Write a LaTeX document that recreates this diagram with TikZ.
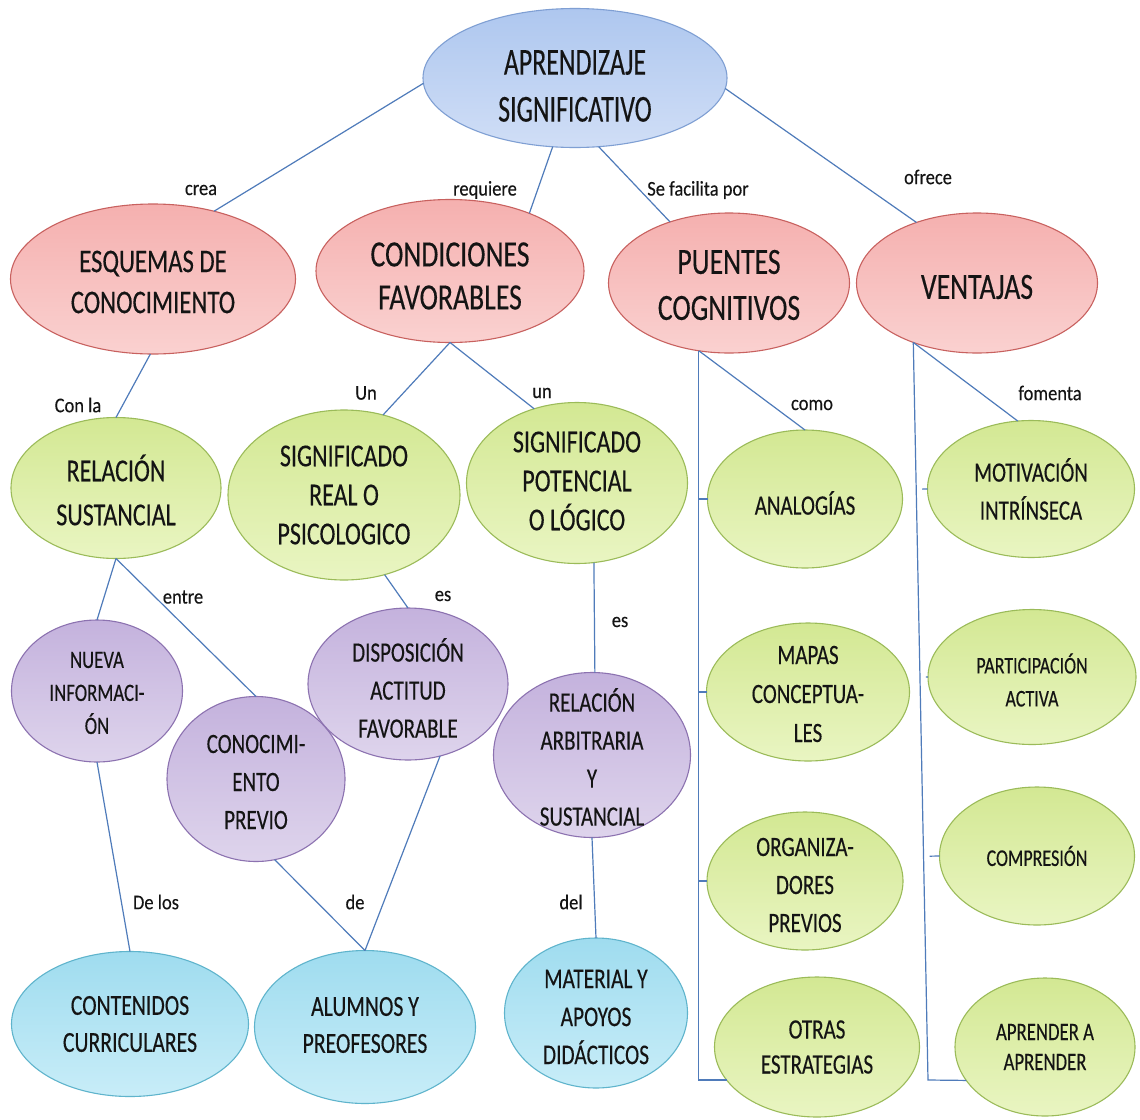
\documentclass[tikz,border=0pt]{standalone}
\usepackage{fontspec}
\setmainfont{Carlito}
\newfontfamily\nodefont{Carlito}[FakeStretch=0.75, FakeBold=0.3]
\newfontfamily\bigfont{Carlito}[FakeStretch=0.68, FakeBold=0.3]
\newfontfamily\lblfont{Carlito}[FakeStretch=0.88, FakeBold=0.2]
\usetikzlibrary{shapes.geometric, calc}
\definecolor{linkblue}{HTML}{4F7BBA}
\definecolor{inkgray}{HTML}{141414}
\definecolor{topline}{HTML}{7F9FD3}
\definecolor{toptop}{HTML}{AEC7EF}
\definecolor{topbot}{HTML}{D0DEF6}
\definecolor{redline}{HTML}{C8615F}
\definecolor{redtop}{HTML}{F5B0AF}
\definecolor{redbot}{HTML}{FAD1D0}
\definecolor{greenline}{HTML}{9BBB59}
\definecolor{greentop}{HTML}{D3E893}
\definecolor{greenbot}{HTML}{E9F5C2}
\definecolor{purpleline}{HTML}{8C72B0}
\definecolor{purpletop}{HTML}{C4B2DD}
\definecolor{purplebot}{HTML}{DED4EC}
\definecolor{cyanline}{HTML}{5FB4CC}
\definecolor{cyantop}{HTML}{9FDCEF}
\definecolor{cyanbot}{HTML}{C8EDF8}

\begin{document}
\begin{tikzpicture}[
        x=1pt, y=-1pt,
        ell/.style={ellipse, line width=1.1pt, inner sep=0pt, outer sep=0pt},
        topell/.style={ell, draw=topline, top color=toptop, bottom color=topbot},
        redell/.style={ell, draw=redline, top color=redtop, bottom color=redbot},
        greenell/.style={ell, draw=greenline, top color=greentop, bottom color=greenbot},
        purpleell/.style={ell, draw=purpleline, top color=purpletop, bottom color=purplebot},
        cyanell/.style={ell, draw=cyanline, top color=cyantop, bottom color=cyanbot},
        sz/.style 2 args={minimum width=#1, minimum height=#2},
        txt/.style 2 args={font=\nodefont\fontsize{#1}{#2}\selectfont, align=center, text=inkgray, inner sep=0pt},
        bigtxt/.style 2 args={font=\bigfont\fontsize{#1}{#2}\selectfont, align=center, text=inkgray, inner sep=0pt},
        lbl/.style={font=\lblfont\fontsize{21}{24}\selectfont, text=inkgray, inner sep=0pt},
        link/.style={draw=linkblue, line width=1.2pt}
    ]
        \fill[white] (0,0) rectangle (1140,1119);
        \useasboundingbox (0,0) rectangle (1140,1119);

        % Main concept
        \node[topell, sz={304}{139}, label={[bigtxt={38}{47}, yshift=-8pt]center:APRENDIZAJE\\SIGNIFICATIVO}] (aprend) at (575,78) {};

        % Second level
        \node[redell, sz={285}{150}, label={[txt={33}{41}, yshift=-3pt]center:ESQUEMAS DE\\CONOCIMIENTO}] (esquemas) at (153,279) {};
        \node[redell, sz={268}{143}, label={[txt={37}{43}, yshift=-5pt]center:CONDICIONES\\FAVORABLES}] (condic) at (450,271) {};
        \node[redell, sz={241}{140}, label={[txt={37}{46}, yshift=-2pt]center:PUENTES\\COGNITIVOS}] (puentes) at (729,283) {};
        \node[redell, sz={241}{140}, label={[txt={37}{44}, yshift=-4pt]center:VENTAJAS}] (ventajas) at (977,283) {};

        % Third level
        \node[greenell, sz={210}{141}, label={[txt={32}{44}, yshift=-2pt]center:RELACIÓN\\SUSTANCIAL}] (relsust) at (116,488) {};
        \node[greenell, sz={232}{170}, label={[txt={32}{39}]center:SIGNIFICADO\\REAL O\\PSICOLOGICO}] (sigreal) at (344,495) {};
        \node[greenell, sz={221}{161}, label={[txt={32}{39}, yshift=2pt]center:SIGNIFICADO\\POTENCIAL\\O LÓGICO}] (sigpot) at (577,483) {};

        % Bridges and advantages
        \node[greenell, sz={195}{138}, label={[txt={28}{38}, yshift=-4pt]center:ANALOGÍAS}] (analog) at (805,499) {};
        \node[greenell, sz={203}{138}, label={[txt={28}{39}, yshift=-2pt]center:MAPAS\\CONCEPTUA-\\LES}] (mapas) at (808,692) {};
        \node[greenell, sz={196}{138}, label={[txt={28}{38}, yshift=-4pt]center:ORGANIZA-\\DORES\\PREVIOS}] (organiz) at (805,881) {};
        \node[greenell, sz={205}{140}, label={[txt={28}{35}]center:OTRAS\\ESTRATEGIAS}] (otras) at (817,1047) {};
        \node[greenell, sz={207}{137}, label={[txt={28}{38}]center:MOTIVACIÓN\\INTRÍNSECA}] (motiv) at (1031,489) {};
        \node[greenell, sz={208}{135}, label={[txt={24}{33}, yshift=-3pt]center:PARTICIPACIÓN\\ACTIVA}] (partic) at (1032,677) {};
        \node[greenell, sz={195}{138}, label={[txt={24}{30}]center:COMPRESIÓN}] (compren) at (1037,856) {};
        \node[greenell, sz={180}{138}, label={[txt={25}{30}]center:APRENDER A\\APRENDER}] (aprender) at (1045,1047) {};

        % Fourth level
        \node[purpleell, sz={171}{142}, label={[txt={25}{33}, yshift=-2pt]center:NUEVA\\INFORMACI-\\ÓN}] (nueva) at (97,691) {};
        \node[purpleell, sz={178}{165}, label={[txt={28}{38}, yshift=-3pt]center:CONOCIMI-\\ENTO\\PREVIO}] (conoc) at (256,779) {};
        \node[purpleell, sz={200}{152}, label={[txt={28}{38}, yshift=-4pt]center:DISPOSICIÓN\\ACTITUD\\FAVORABLE}] (dispos) at (408,684) {};
        \node[purpleell, sz={197}{165}, label={[txt={28}{38}, yshift=-2pt]center:RELACIÓN\\ARBITRARIA\\Y\\SUSTANCIAL}] (relarb) at (592,755) {};

        % Bottom level
        \node[cyanell, sz={237}{145}, label={[txt={29}{37}]center:CONTENIDOS\\CURRICULARES}] (conten) at (130,1024) {};
        \node[cyanell, sz={221}{153}, label={[txt={29}{37}, yshift=2pt]center:ALUMNOS Y\\PREOFESORES}] (alumnos) at (365,1027) {};
        \node[cyanell, sz={183}{150}, label={[txt={28.5}{38}, yshift=-4pt]center:MATERIAL Y\\APOYOS\\DIDÁCTICOS}] (material) at (596,1013) {};

        % Links
        \draw[link] (aprend.182) -- (esquemas.48);
        \draw[link] (aprend.252) -- (condic.36);
        \draw[link] (aprend.289) -- (puentes.134);
        \draw[link] (aprend.356) -- (ventajas.135);
        \draw[link] (esquemas.268) -- (relsust.90);
        \draw[link] (condic.270) -- (sigreal.64);
        \draw[link] (condic.270) -- (sigpot.120);
        \draw[link] (relsust.270) -- (nueva.90);
        \draw[link] (relsust.270) -- (conoc.90);
        \draw[link] (sigreal.297) -- (dispos.90);
        \draw[link] (sigpot.282) -- (relarb.88);
        \draw[link] (nueva.270) -- (conten.90);
        \draw[link] (conoc.283) -- (alumnos.90);
        \draw[link] (dispos.294) -- (alumnos.90);
        \draw[link] (relarb.270) -- (material.90);

        % Bracket of the bridges
        \draw[link] (puentes.246) |- (otras.200);
        \draw[link] (puentes.246) -- (analog.90);
        \foreach \n in {analog, mapas, organiz}
            \draw[link] (\n.west) -- (\n.west -| puentes.246);

        % Bracket of the advantages
        \coordinate (vcorner) at (928,1080);
        \draw[link] (ventajas.223) -- (vcorner) -- (aprender.203);
        \draw[link] (ventajas.223) -- (motiv.101);
        \foreach \n in {motiv, partic, compren}
            \draw[link, shorten >=6pt] (\n.west) -- ($(ventajas.223)!(\n.west)!(vcorner)$);

        % Link labels
        \node[lbl] (lcrea) at (201,190) {crea};
        \node[lbl] (lrequiere) at (485,190) {requiere};
        \node[lbl] (lfacilita) at (698,190) {Se facilita por};
        \node[lbl] (lofrece) at (928,177) {ofrece};
        \node[lbl] (lconla) at (78,405) {Con la};
        \node[lbl] (lUn) at (366,393) {Un};
        \node[lbl] (lun) at (542,393) {un};
        \node[lbl] (lentre) at (183,597) {entre};
        \node[lbl] (lesreal) at (443,596) {es};
        \node[lbl] (lespot) at (620,622) {es};
        \node[lbl] (ldelos) at (156,902) {De los};
        \node[lbl] (lde) at (355,902) {de};
        \node[lbl] (ldel) at (571,902) {del};
        \node[lbl] (lcomo) at (812,405) {como};
        \node[lbl] (lfomenta) at (1050,393) {fomenta};
    \end{tikzpicture}
\end{document}
